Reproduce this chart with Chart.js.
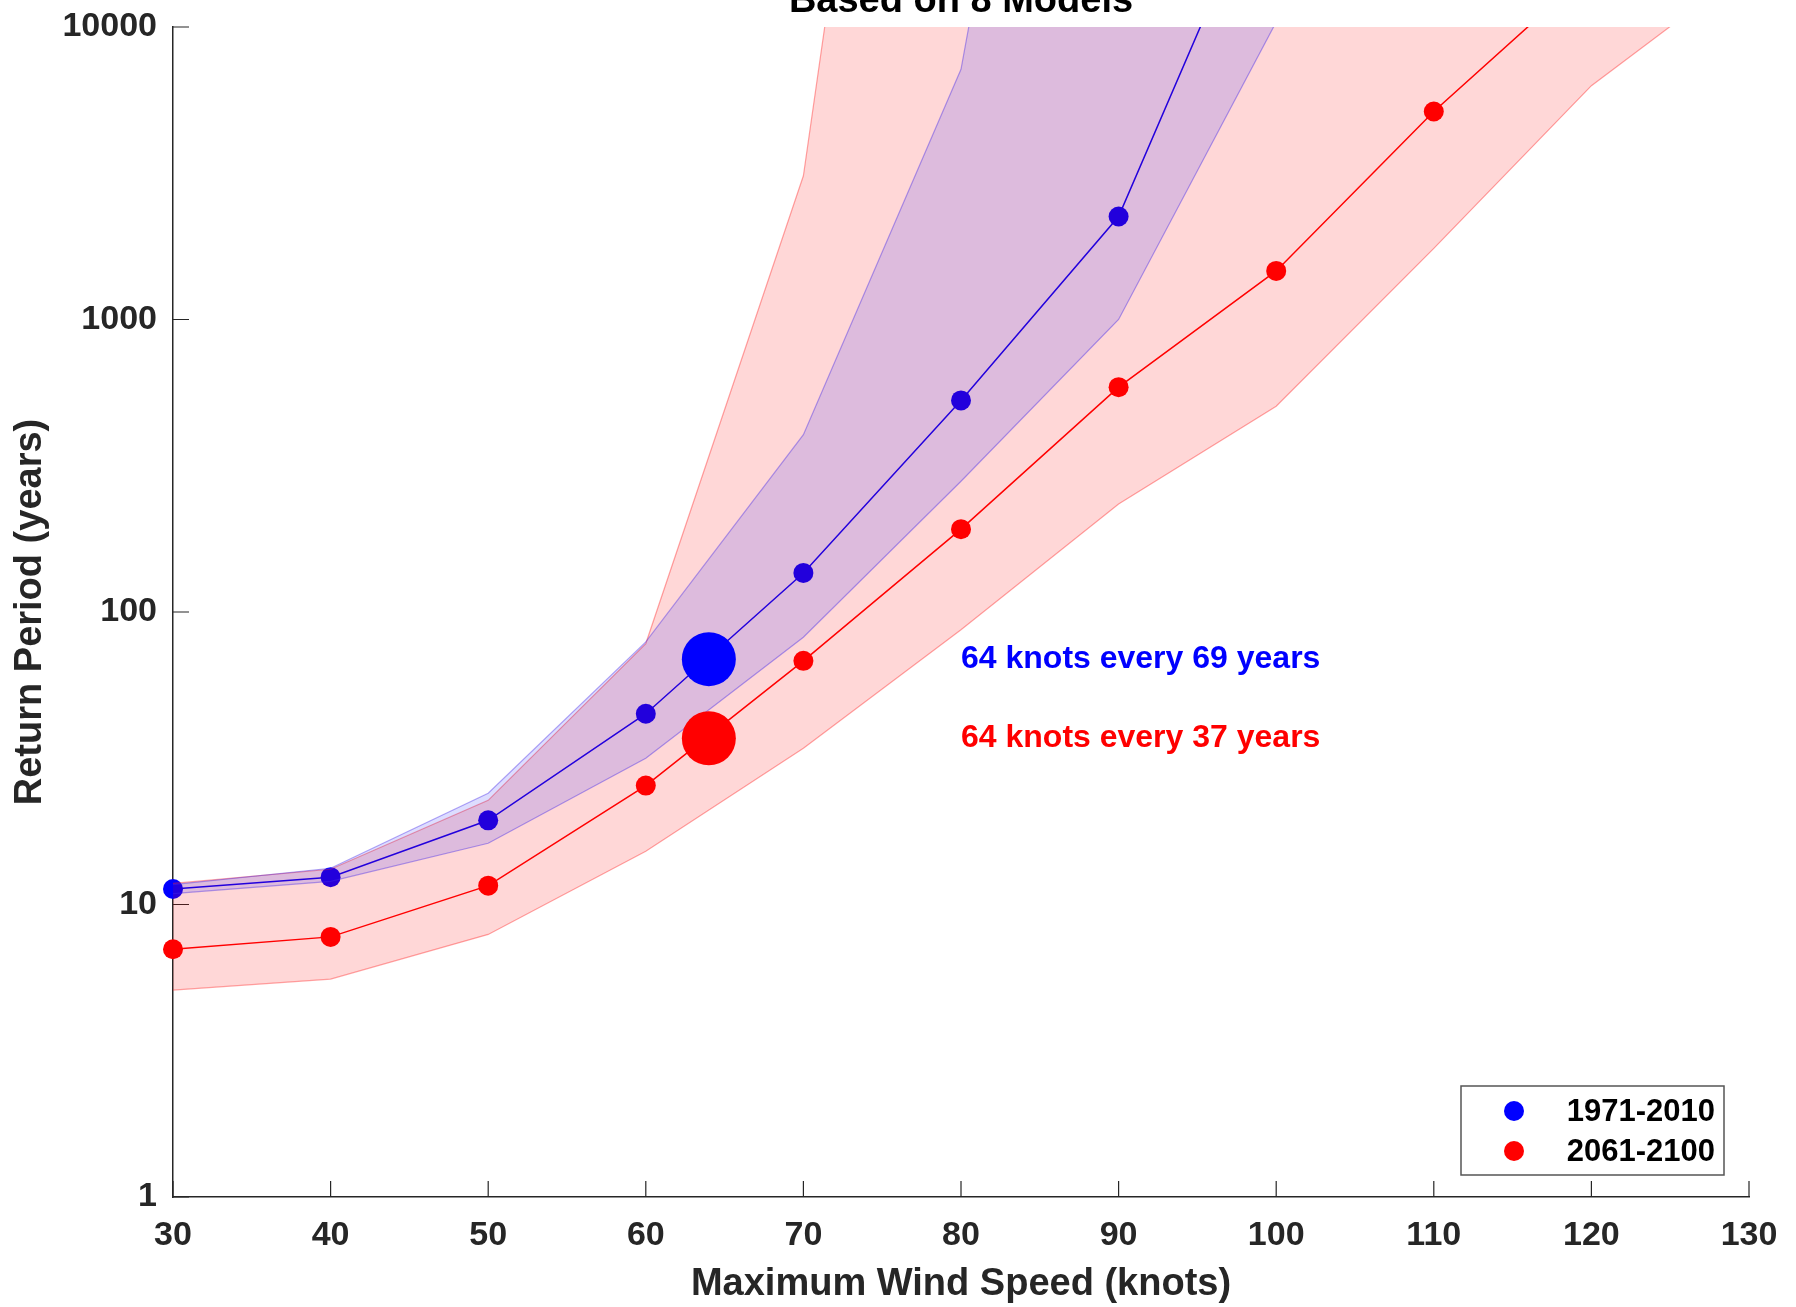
<!DOCTYPE html>
<html>
<head>
<meta charset="utf-8">
<script src="https://cdn.jsdelivr.net/npm/chart.js@4.4.1/dist/chart.umd.min.js"></script>
<style>
  html, body { margin: 0; padding: 0; background: #fff; }
  #wrap { width: 1796px; height: 1307px; }
</style>
</head>
<body>
<div id="wrap"><canvas id="chartReturn" width="1796" height="1307"></canvas></div>
<script>
// wind speed (knots)
const windSpeeds = [30, 40, 50, 60, 70, 80, 90, 100, 110, 120, 130];

// 1971-2010 return period (years): median and spread across models
const histMedian = [11.3, 12.4, 19.4, 44.9, 136, 529, 2250, 40000, null, null, null];
const histUpper  = [11.7, 13.3, 24.0, 79, 404, 7170, 6.3e6, 1e9, null, null, null];
const histLower  = [10.9, 12.0, 16.2, 31.6, 82, 280, 1000, 10400, null, null, null];

// 2061-2100 return period (years)
const futMedian = [7.03, 7.75, 11.6, 25.5, 68.1, 192, 587, 1466, 5140, 15700, null];
const futUpper  = [11.8, 13.2, 22.7, 78, 3100, 1.8e7, 1e9, 1e10, 1e11, 1e12, 1e13];
const futLower  = [5.1, 5.56, 7.9, 15.2, 34.2, 87, 234, 505, 1750, 6300, 16000];

// 64 knot highlight
const hurricaneSpeed = 64;
const hurricanePeriods = [69, 37];
const noteSpeed = 80;   // where the notes start

const periodLabels = ['1971-2010', '2061-2100'];
const periodColors = ['#0000ff', '#ff0000'];
const yTicks = [1, 10, 100, 1000, 10000];
const xTicks = [30, 40, 50, 60, 70, 80, 90, 100, 110, 120, 130];

const fontFamily = '"Liberation Sans", Arial, Helvetica, sans-serif';
const axisGrey = '#262626';

function toPoints(values) {
  return windSpeeds.map((s, i) => ({ x: s, y: values[i] }));
}

// ticks inside the axes, title cut at top, notes and the legend box
const extrasPlugin = {
  id: 'extras',
  beforeDatasetsDraw(chart) {
    const ctx = chart.ctx;
    const area = chart.chartArea;
    const xs = chart.scales.x, ys = chart.scales.y;
    ctx.save();
    ctx.strokeStyle = axisGrey;
    ctx.lineWidth = 1.2;
    ctx.beginPath();
    xTicks.forEach(v => {
      const px = xs.getPixelForValue(v);
      ctx.moveTo(px, area.bottom);
      ctx.lineTo(px, area.bottom - 16);
    });
    yTicks.forEach(v => {
      const py = ys.getPixelForValue(v);
      ctx.moveTo(area.left, py);
      ctx.lineTo(area.left + 16, py);
    });
    ctx.stroke();
    ctx.restore();
  },
  afterDraw(chart) {
    const ctx = chart.ctx;
    const area = chart.chartArea;
    const xs = chart.scales.x, ys = chart.scales.y;
    ctx.save();

    // title (only the lower part is on the page)
    ctx.fillStyle = '#000';
    ctx.font = 'bold 38px ' + fontFamily;
    ctx.textAlign = 'center';
    ctx.textBaseline = 'alphabetic';
    ctx.fillText('Based on 8 Models', (area.left + area.right) / 2, 12);

    // notes
    ctx.font = 'bold 32px ' + fontFamily;
    ctx.textAlign = 'left';
    ctx.textBaseline = 'middle';
    hurricanePeriods.forEach((p, i) => {
      ctx.fillStyle = periodColors[i];
      ctx.fillText(hurricaneSpeed + ' knots every ' + p + ' years',
        xs.getPixelForValue(noteSpeed), ys.getPixelForValue(p));
    });

    // legend
    const boxW = 263, boxH = 89;
    const bx = area.right - 25 - boxW;
    const by = area.bottom - 22 - boxH;
    ctx.fillStyle = '#fff';
    ctx.fillRect(bx, by, boxW, boxH);
    ctx.strokeStyle = '#555';
    ctx.lineWidth = 1.5;
    ctx.strokeRect(bx, by, boxW, boxH);
    ctx.font = 'bold 31px ' + fontFamily;
    ctx.textAlign = 'right';
    periodLabels.forEach((lab, i) => {
      const cy = by + 25 + i * 40;
      ctx.fillStyle = periodColors[i];
      ctx.beginPath();
      ctx.arc(bx + 53, cy, 10, 0, Math.PI * 2);
      ctx.fill();
      ctx.fillStyle = '#000';
      ctx.fillText(lab, bx + boxW - 9, cy + 1);
    });
    ctx.restore();
  }
};

const redFill = 'rgba(255,0,0,0.157)';
const redEdge = 'rgba(255,40,40,0.42)';
const blueFill = 'rgba(0,0,255,0.135)';
const blueEdge = 'rgba(70,40,230,0.42)';
const markerClip = { left: 15, top: 0, right: 0, bottom: 15 };

function noScalePadding(scale) {
  scale.paddingTop = 0;
  scale.paddingBottom = 0;
  scale.paddingLeft = 0;
  scale.paddingRight = 0;
}

const ctx = document.getElementById('chartReturn').getContext('2d');
const returnChart = new Chart(ctx, {
  type: 'line',
  data: {
    datasets: [
      {
        label: periodLabels[0],
        data: toPoints(histMedian),
        borderColor: periodColors[0],
        backgroundColor: periodColors[0],
        borderWidth: 1.5,
        pointRadius: 10,
        pointBorderWidth: 0,
        fill: false,
        clip: markerClip,
        order: 6
      },
      {
        label: 'future upper',
        data: toPoints(futUpper),
        borderColor: redEdge,
        borderWidth: 1.2,
        pointRadius: 0,
        fill: { target: 2, above: redFill, below: redFill },
        order: 5
      },
      {
        label: 'future lower',
        data: toPoints(futLower),
        borderColor: redEdge,
        borderWidth: 1.2,
        pointRadius: 0,
        fill: false,
        order: 5
      },
      {
        label: 'hist upper',
        data: toPoints(histUpper),
        borderColor: blueEdge,
        borderWidth: 1.2,
        pointRadius: 0,
        fill: { target: 4, above: blueFill, below: blueFill },
        order: 4
      },
      {
        label: 'hist lower',
        data: toPoints(histLower),
        borderColor: blueEdge,
        borderWidth: 1.2,
        pointRadius: 0,
        fill: false,
        order: 4
      },
      {
        label: periodLabels[1],
        data: toPoints(futMedian),
        borderColor: periodColors[1],
        backgroundColor: periodColors[1],
        borderWidth: 1.5,
        pointRadius: 10,
        pointBorderWidth: 0,
        fill: false,
        clip: markerClip,
        order: 2
      },
      {
        label: '64 kt hist',
        data: [{ x: hurricaneSpeed, y: hurricanePeriods[0] }],
        backgroundColor: periodColors[0],
        borderWidth: 0,
        pointRadius: 27,
        pointBorderWidth: 0,
        showLine: false,
        order: 1
      },
      {
        label: '64 kt future',
        data: [{ x: hurricaneSpeed, y: hurricanePeriods[1] }],
        backgroundColor: periodColors[1],
        borderWidth: 0,
        pointRadius: 27,
        pointBorderWidth: 0,
        showLine: false,
        order: 0
      }
    ]
  },
  options: {
    responsive: false,
    animation: false,
    devicePixelRatio: 1,
    spanGaps: false,
    layout: {
      padding: { top: 23, right: 47, left: 0, bottom: 0 }
    },
    plugins: {
      legend: { display: false },
      tooltip: { enabled: false },
      title: { display: false }
    },
    scales: {
      x: {
        type: 'linear',
        min: 30,
        max: 130,
        afterBuildTicks: (scale) => { scale.ticks = xTicks.map(v => ({ value: v })); },
        afterFit: (scale) => { scale.height = 110; noScalePadding(scale); },
        grid: { display: true, drawOnChartArea: false, drawTicks: false },
        border: { display: true, color: axisGrey, width: 1.5 },
        ticks: {
          color: axisGrey,
          padding: 18,
          font: { family: fontFamily, size: 34, weight: 'bold' },
          maxRotation: 0,
          callback: (v) => String(v)
        },
        title: {
          display: true,
          text: 'Maximum Wind Speed (knots)',
          color: axisGrey,
          font: { family: fontFamily, size: 38, weight: 'bold' },
          padding: { top: 0, bottom: 0 }
        }
      },
      y: {
        type: 'logarithmic',
        min: 1,
        max: 10000,
        afterBuildTicks: (scale) => { scale.ticks = yTicks.map(v => ({ value: v })); },
        afterFit: (scale) => { scale.width = 173; noScalePadding(scale); },
        grid: { display: true, drawOnChartArea: false, drawTicks: false },
        border: { display: true, color: axisGrey, width: 1.5 },
        ticks: {
          color: axisGrey,
          padding: 16,
          font: { family: fontFamily, size: 34, weight: 'bold' },
          callback: (v) => String(v)
        },
        title: {
          display: true,
          text: 'Return Period (years)',
          color: axisGrey,
          font: { family: fontFamily, size: 38, weight: 'bold' },
          padding: { top: 8, bottom: 0 }
        }
      }
    }
  },
  plugins: [extrasPlugin]
});
</script>
</body>
</html>
